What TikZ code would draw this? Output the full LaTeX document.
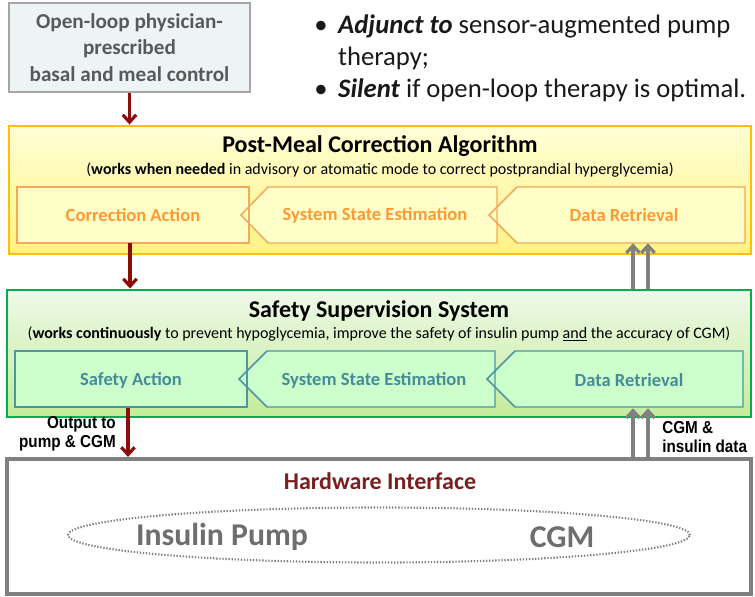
\documentclass[tikz,border=0pt]{standalone}
\usepackage{fontspec}
\setmainfont{Carlito}
\newfontfamily\narrowfont[FakeStretch=0.88]{Liberation Sans}
\usetikzlibrary{arrows.meta,shapes.geometric}
\definecolor{darkred}{RGB}{140,12,12}
\definecolor{arrgrey}{RGB}{128,128,128}
\definecolor{olfill}{RGB}{238,244,246}
\definecolor{olborder}{RGB}{166,166,166}
\definecolor{oltext}{RGB}{89,89,89}
\definecolor{ybord}{RGB}{255,192,0}
\definecolor{ytop}{RGB}{255,255,215}
\definecolor{ybot}{RGB}{255,242,130}
\definecolor{yinfill}{RGB}{255,255,200}
\definecolor{yinbord}{RGB}{240,170,90}
\definecolor{ytext}{RGB}{255,153,51}
\definecolor{gbord}{RGB}{0,176,80}
\definecolor{gtop}{RGB}{238,249,232}
\definecolor{gbot}{RGB}{196,236,155}
\definecolor{ginfill}{RGB}{204,255,204}
\definecolor{ginbord}{RGB}{75,150,160}
\definecolor{gtext}{RGB}{70,140,150}
\definecolor{hwbord}{RGB}{128,128,128}
\definecolor{hwtext}{RGB}{125,30,30}
\definecolor{hwgrey}{RGB}{110,110,110}
\begin{document}
\begin{tikzpicture}[x=0.75pt,y=-0.75pt,
  redarrow/.style={draw=darkred,line width=2.4pt,-{Straight Barb[length=5.5pt,width=10pt,line width=2.4pt]}},
  greyarrow/.style={draw=arrgrey,line width=2.4pt,-{Straight Barb[length=5.5pt,width=10pt,line width=2.4pt]}},
  bigbox/.style={rectangle,line width=2.2pt,inner sep=0pt},
  titletext/.style={font=\fontsize{18pt}{21pt}\selectfont\bfseries},
  subtext/.style={font=\fontsize{12pt}{14pt}\selectfont},
  intext/.style={font=\fontsize{13.9pt}{16pt}\selectfont\bfseries},
  yinner/.style={fill=yinfill,draw=yinbord,line width=1.1pt,line join=miter},
  ginner/.style={fill=ginfill,draw=ginbord,line width=1.1pt,line join=miter},
  lbl/.style={font=\narrowfont\fontsize{13pt}{14.3pt}\selectfont\bfseries,align=left,inner sep=0pt}
]
\useasboundingbox (0,0) rectangle (755,596);

% open-loop box
\node[rectangle,fill=olfill,draw=olborder,line width=2.2pt,minimum width=241*0.75pt,minimum height=89*0.75pt,
  align=center,text=oltext,font=\fontsize{15.9pt}{19.8pt}\selectfont\bfseries] (openloop) at (129.5,47.5)
  {Open-loop physician-\\prescribed\\basal and meal control};

% bullets
\node[anchor=north west,inner sep=0pt,text=black!90,font=\fontsize{20pt}{24pt}\selectfont] (bullets) at (314,11)
  {\begin{tabular}{@{}l@{\hspace{8pt}}l@{}}
  • & \textbf{\textit{Adjunct to}} sensor-augmented pump\\
    & therapy;\\
  • & \textbf{\textit{Silent}} if open-loop therapy is optimal.
  \end{tabular}};

% yellow box
\node[bigbox,draw=ybord,top color=ytop,bottom color=ybot,minimum width=742*0.75pt,minimum height=128*0.75pt] (yellow) at (380,190) {};
\node[titletext] (ytitle) at (380,146) {Post-Meal Correction Algorithm};
\node[subtext] (ysub) at (380,170) {(\textbf{works when needed} in advisory or atomatic mode to correct postprandial hyperglycemia)};
\fill[yinfill] (17,187) rectangle (249,243);
\fill[yinfill] (241,215) -- (268,187) -- (497,187) -- (497,243) -- (268,243) -- cycle;
\fill[yinfill] (489,215) -- (517,187) -- (745,187) -- (745,243) -- (517,243) -- cycle;
\draw[yinner,fill=none] (17,187) rectangle (249,243);
\draw[yinner,fill=none] (241,215) -- (268,187) -- (497,187) -- (497,243) -- (268,243) -- cycle;
\draw[yinner,fill=none] (489,215) -- (517,187) -- (745,187) -- (745,243) -- (517,243) -- cycle;
\node[intext,text=ytext,minimum width=232*0.75pt,minimum height=56*0.75pt] (ca) at (133,215) {Correction Action};
\node[intext,text=ytext] (yse) at (375,215) {System State Estimation};
\node[intext,text=ytext,minimum width=228*0.75pt,minimum height=56*0.75pt] (ydr) at (624,215) {Data Retrieval};

% green box
\node[bigbox,draw=gbord,top color=gtop,bottom color=gbot,minimum width=744*0.75pt,minimum height=127*0.75pt] (green) at (379,353.5) {};
\node[titletext] (gtitle) at (379,311) {Safety Supervision System};
\node[subtext] (gsub) at (379,334) {(\textbf{works continuously} to prevent hypoglycemia, improve the safety of insulin pump \underline{and} the accuracy of CGM)};
\fill[ginfill] (15,351) rectangle (247,407);
\fill[ginfill] (239,379) -- (267,351) -- (495,351) -- (495,407) -- (267,407) -- cycle;
\fill[ginfill] (487,379) -- (515,351) -- (743,351) -- (743,407) -- (515,407) -- cycle;
\draw[ginner,fill=none] (15,351) rectangle (247,407);
\draw[ginner,fill=none] (239,379) -- (267,351) -- (495,351) -- (495,407) -- (267,407) -- cycle;
\draw[ginner,fill=none] (487,379) -- (515,351) -- (743,351) -- (743,407) -- (515,407) -- cycle;
\node[intext,text=gtext,minimum width=232*0.75pt,minimum height=56*0.75pt] (sa) at (131,380) {Safety Action};
\node[intext,text=gtext] (gse) at (374,380) {System State Estimation};
\node[intext,text=gtext,minimum width=228*0.75pt,minimum height=56*0.75pt] (gdr) at (629,380) {Data Retrieval};

% hardware box
\node[bigbox,draw=hwbord,fill=white,line width=3pt,minimum width=744*0.75pt,minimum height=135*0.75pt] (hw) at (379,526.5) {};
\node[font=\fontsize{18pt}{21pt}\selectfont\bfseries,text=hwtext] (hwtitle) at (380,481) {Hardware Interface};
\node[ellipse,draw=arrgrey,line width=1.6pt,dash pattern=on 1pt off 1.3pt,minimum width=622*0.75pt,minimum height=55*0.75pt] (hwell) at (379,535) {};
\node[font=\fontsize{23.8pt}{27pt}\selectfont\bfseries,text=hwgrey] (pump) at (222,537) {Insulin Pump};
\node[font=\fontsize{23.8pt}{27pt}\selectfont\bfseries,text=hwgrey] (cgm) at (562,537) {CGM};

% connectors
\draw[redarrow] (openloop.south) -- (openloop.south |- yellow.north);
\draw[redarrow] ([xshift=-2.25pt]ca.south) -- ([xshift=-2.25pt]ca.south |- green.north);
\draw[redarrow] ([xshift=-2.25pt]sa.south) -- ([xshift=-2.25pt]sa.south |- hw.north);
\coordinate (ga) at (633,0);
\coordinate (gb) at (648,0);
\draw[greyarrow] (ga |- green.north) -- (ga |- ydr.south);
\draw[greyarrow] (gb |- green.north) -- (gb |- ydr.south);
\draw[greyarrow] (ga |- hw.north) -- (ga |- gdr.south);
\draw[greyarrow] (gb |- hw.north) -- (gb |- gdr.south);

% labels
\node[lbl,align=right,anchor=east] (outlbl) at (116,434) {Output to\\pump \& CGM};
\node[lbl,anchor=west] (inlbl) at (662,437) {CGM \&\\insulin data};
\end{tikzpicture}
\end{document}
